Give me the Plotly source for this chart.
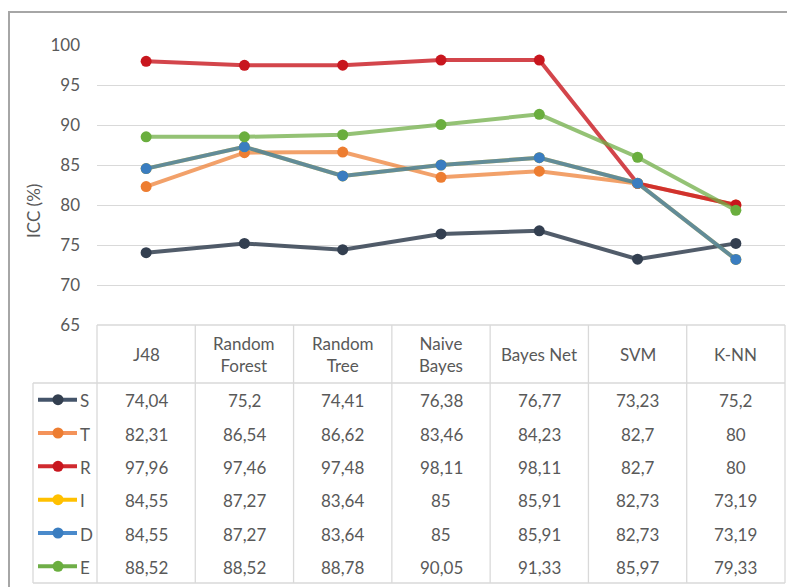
import plotly.graph_objects as go

categories = ["J48", "Random Forest", "Random Tree", "Naive Bayes", "Bayes Net", "SVM", "K-NN"]
header_labels = ["J48", "Random<br>Forest", "Random<br>Tree", "Naive<br>Bayes", "Bayes Net", "SVM", "K-NN"]
series_names = ["S", "T", "R", "I", "D", "E"]
S = [74.04, 75.2, 74.41, 76.38, 76.77, 73.23, 75.2]
T = [82.31, 86.54, 86.62, 83.46, 84.23, 82.7, 80]
R = [97.96, 97.46, 97.48, 98.11, 98.11, 82.7, 80]
I = [84.55, 87.27, 83.64, 85, 85.91, 82.73, 73.19]
D = [84.55, 87.27, 83.64, 85, 85.91, 82.73, 73.19]
E = [88.52, 88.52, 88.78, 90.05, 91.33, 85.97, 79.33]
series_values = [S, T, R, I, D, E]
y_ticks = [65, 70, 75, 80, 85, 90, 95, 100]

marker_colors = ["#333F50", "#ED7D31", "#C8161E", "#FFC000", "#3A7DC0", "#6AAE3E"]
line_colors = ["rgba(51,63,80,0.85)", "rgba(237,125,49,0.72)", "rgba(200,22,30,0.8)",
               "rgba(255,192,0,0.75)", "rgba(46,117,182,0.75)", "rgba(112,173,71,0.75)"]
legend_colors = ["#44546A", "#F4935A", "#D02A2F", "#FFC000", "#4A8ACB", "#6FAE48"]

FONT = "Lato, Carlito, 'Liberation Sans', sans-serif"
TXT = "#595959"

# page has an 8px body margin; work in page pixels and offset the figure
OFF = 8
W, H = 795 - OFF, 587 - OFF
PL, PR, PT, PB = 97, 785, 45, 325  # plot area in page pixels

def px(x):
    return (x - PL) / (PR - PL)

def py(y):
    return (PB - y) / (PB - PT)

fig = go.Figure()
for name, vals, lc, mc in zip(series_names, series_values, line_colors, marker_colors):
    fig.add_trace(go.Scatter(
        x=categories, y=vals, name=name, mode="lines+markers",
        line=dict(color=lc, width=4),
        marker=dict(color=mc, size=11),
        showlegend=False, cliponaxis=False,
    ))

shapes = []
annotations = []
grid = "#D9D9D9"
n = len(categories)
col_w = (PR - PL) / n
header_top, header_bot = PB, 383
row_h = (583 - header_bot) / len(series_names)
table_bot = header_bot + row_h * len(series_names)
leg_left = 33

def hline(x0, x1, y, color=grid, w=1.3):
    shapes.append(dict(type="line", xref="paper", yref="paper", x0=px(x0), x1=px(x1),
                       y0=py(y), y1=py(y), line=dict(color=color, width=w)))

def vline(x, y0, y1, color=grid, w=1.3):
    shapes.append(dict(type="line", xref="paper", yref="paper", x0=px(x), x1=px(x),
                       y0=py(y0), y1=py(y1), line=dict(color=color, width=w)))

hline(PL, PR, header_top)
hline(leg_left, PR, header_bot)
hline(leg_left, PR, table_bot)
for k in range(n + 1):
    vline(PL + k * col_w, header_top, table_bot)
vline(leg_left, header_bot, table_bot)

# header text
for k, lab in enumerate(header_labels):
    annotations.append(dict(xref="paper", yref="paper", x=(k + 0.5) / n,
                            y=py((header_top + header_bot) / 2), text=lab, showarrow=False,
                            font=dict(family=FONT, size=17, color=TXT), align="center",
                            xanchor="center", yanchor="middle"))

def fmt(v):
    return f"{v:g}".replace(".", ",")

for r, (name, vals, lcol, mcol) in enumerate(zip(series_names, series_values, legend_colors, marker_colors)):
    yc = header_bot + row_h * (r + 0.5) + 1
    for k, v in enumerate(vals):
        annotations.append(dict(xref="paper", yref="paper", x=(k + 0.5) / n, y=py(yc),
                                text=fmt(v), showarrow=False,
                                font=dict(family=FONT, size=17, color=TXT),
                                xanchor="center", yanchor="middle"))
    # legend key
    shapes.append(dict(type="line", xref="paper", yref="paper", x0=px(38), x1=px(77),
                       y0=py(yc - 1), y1=py(yc - 1), line=dict(color=lcol, width=4)))
    shapes.append(dict(type="circle", xref="paper", yref="paper", x0=px(52.5), x1=px(63.5),
                       y0=py(yc - 1 + 5.5), y1=py(yc - 1 - 5.5), fillcolor=mcol,
                       line=dict(color=mcol, width=0)))
    annotations.append(dict(xref="paper", yref="paper", x=px(78), y=py(yc), text=name,
                            showarrow=False, font=dict(family=FONT, size=17, color=TXT),
                            xanchor="left", yanchor="middle"))

# outer frame
shapes.append(dict(type="rect", xref="paper", yref="paper", x0=px(9), x1=px(820),
                   y0=py(620), y1=py(12), line=dict(color="#A6A6A6", width=2),
                   fillcolor="rgba(0,0,0,0)", layer="below"))

# axis title
annotations.append(dict(xref="paper", yref="paper", x=px(33), y=py(211), text="ICC (%)",
                        showarrow=False, textangle=-90,
                        font=dict(family=FONT, size=17, color=TXT),
                        xanchor="center", yanchor="middle"))

fig.update_layout(
    width=W, height=H,
    margin=dict(l=PL - OFF, r=W - (PR - OFF), t=PT - OFF, b=H - (PB - OFF), pad=0),
    paper_bgcolor="white", plot_bgcolor="white",
    shapes=shapes, annotations=annotations,
    xaxis=dict(range=[-0.5, n - 0.5], showgrid=False, showticklabels=False,
               zeroline=False, showline=False, ticks=""),
    yaxis=dict(range=[65, 100], tickvals=y_ticks, showgrid=True, gridcolor=grid, gridwidth=1.3,
               zeroline=False, showline=False, ticks="", ticklabelstandoff=16,
               tickfont=dict(family=FONT, size=17, color=TXT)),
    font=dict(family=FONT, color=TXT),
)

fig.write_html("out.html")
